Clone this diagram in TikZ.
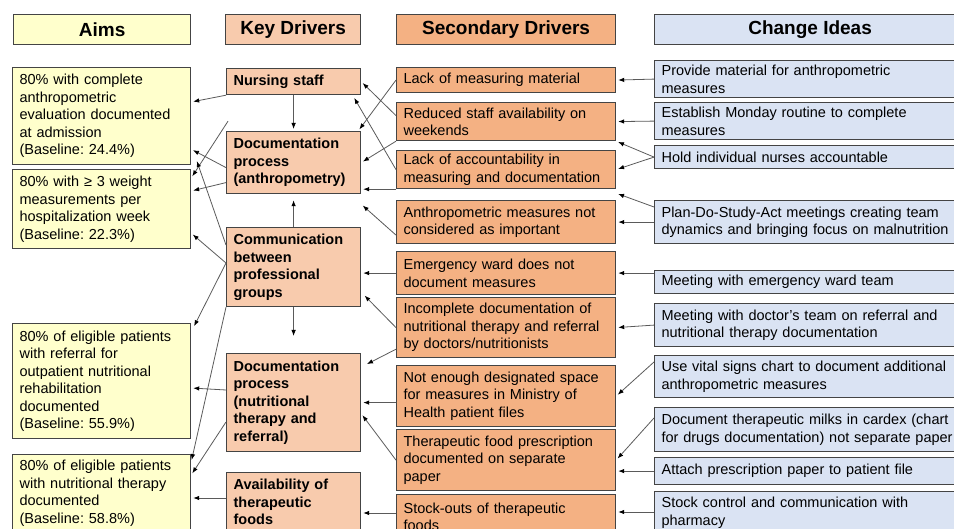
\documentclass[tikz,border=0pt]{standalone}
\usepackage{fontspec}
\setmainfont{Liberation Sans}
\usetikzlibrary{calc}
\usetikzlibrary{arrows.meta}
\frenchspacing

\definecolor{aimfill}{HTML}{FFFFCC}
\definecolor{keyfill}{HTML}{F8CBAD}
\definecolor{secfill}{HTML}{F4B183}
\definecolor{ideafill}{HTML}{DAE3F3}
\definecolor{boxline}{HTML}{444444}
\definecolor{linkgray}{HTML}{5A5A5A}

\tikzset{
	box/.style={draw=boxline, line width=1.2pt, rectangle, anchor=north west, inner xsep=7pt, inner ysep=0pt, align=left, font=\fontsize{14.5}{17.5}\selectfont},
	aim/.style={box, fill=aimfill, text width=164pt},
	key/.style={box, fill=keyfill, text width=120pt, font=\fontsize{14.5}{17.5}\selectfont\bfseries},
	sec/.style={box, fill=secfill, text width=205pt},
	idea/.style={box, fill=ideafill, text width=297pt},
	head/.style={draw=boxline, line width=1.2pt, rectangle, anchor=north west, inner sep=0pt, minimum height=30pt, font=\fontsize{19}{22}\selectfont\bfseries},
	link/.style={draw=linkgray, line width=0.8pt, -{Latex[length=6pt,width=4.5pt,color=black]}, shorten >=2pt}
}

\begin{document}
\begin{tikzpicture}[x=1pt, y=-1pt]
	\useasboundingbox (0,0) rectangle (954,529);

	\node[head, fill=aimfill, minimum width=177pt] (hAims) at (13,14) {Aims};
	\node[head, fill=keyfill, minimum width=135pt] (hKey) at (225,14) {Key Drivers};
	\node[head, fill=secfill, minimum width=219pt] (hSec) at (396,14) {Secondary Drivers};
	\node[head, fill=ideafill, minimum width=311pt] (hIdea) at (654,14) {Change Ideas};

	\node[aim, minimum height=97pt] (aimAdm) at (12,67) {80\% with complete\\anthropometric\\evaluation documented\\at admission\\(Baseline: 24.4\%)};
	\node[aim, minimum height=79pt] (aimWeight) at (12,169) {80\% with ≥ 3 weight\\measurements per\\hospitalization week\\(Baseline: 22.3\%)};
	\node[aim, minimum height=115pt] (aimRef) at (12,323) {80\% of eligible patients\\with referral for\\outpatient nutritional\\rehabilitation\\documented\\(Baseline: 55.9\%)};
	\node[aim, minimum height=77pt] (aimTher) at (12,454) {80\% of eligible patients\\with nutritional therapy\\documented\\(Baseline: 58.8\%)};

	\node[key, minimum height=26pt] (kNurse) at (226,68) {Nursing staff};
	\node[key, minimum height=62pt] (kDocA) at (226,131) {Documentation\\process\\(anthropometry)};
	\node[key, minimum height=79pt] (kComm) at (226,227) {Communication\\between\\professional\\groups};
	\node[key, minimum height=98pt] (kDocN) at (226,353) {Documentation\\process\\(nutritional\\therapy and\\referral)};
	\node[key, minimum height=59pt] (kFood) at (226,472) {Availability of\\therapeutic\\foods};

	\node[sec, minimum height=25pt] (sMat) at (396,67) {Lack of measuring material};
	\node[sec, minimum height=38pt] (sWeekend) at (396,102) {Reduced staff availability on\\weekends};
	\node[sec, minimum height=38pt] (sAcc) at (396,150) {Lack of accountability in\\measuring and documentation};
	\node[sec, minimum height=43pt] (sImport) at (396,200) {Anthropometric measures not\\considered as important};
	\node[sec, minimum height=43pt] (sEmerg) at (396,251) {Emergency ward does not\\document measures};
	\node[sec, minimum height=60pt] (sDoctors) at (396,297) {Incomplete documentation of\\nutritional therapy and referral\\by doctors/nutritionists};
	\node[sec, minimum height=61pt] (sSpace) at (396,365) {Not enough designated space\\for measures in Ministry of\\Health patient files};
	\node[sec, minimum height=61pt] (sPaper) at (396,429) {Therapeutic food prescription\\documented on separate\\paper};
	\node[sec, minimum height=44pt] (sStock) at (396,494) {Stock-outs of therapeutic\\foods};

	\node[idea, minimum height=37pt] (cMat) at (654,60) {Provide material for anthropometric\\measures};
	\node[idea, minimum height=37pt] (cMonday) at (654,102) {Establish Monday routine to complete\\measures};
	\node[idea, minimum height=23pt] (cNurses) at (654,145) {Hold individual nurses accountable};
	\node[idea, minimum height=43pt] (cPdsa) at (654,200) {Plan-Do-Study-Act meetings creating team\\dynamics and bringing focus on malnutrition};
	\node[idea, minimum height=23pt] (cEmerg) at (654,270) {Meeting with emergency ward team};
	\node[idea, minimum height=43pt] (cDoctors) at (654,303) {Meeting with doctor’s team on referral and\\nutritional therapy documentation};
	\node[idea, minimum height=42pt] (cVital) at (654,355) {Use vital signs chart to document additional\\anthropometric measures};
	\node[idea, minimum height=44pt] (cCardex) at (654,407) {Document therapeutic milks in cardex (chart\\for drugs documentation) not separate paper};
	\node[idea, minimum height=27pt] (cAttach) at (654,457) {Attach prescription paper to patient file};
	\node[idea, minimum height=42pt] (cStock) at (654,491) {Stock control and communication with\\pharmacy};

	\draw[link] (cMat.west) -- (sMat.east);
	\draw[link] (cMonday.west) -- (sWeekend.east);
	\draw[link] (cNurses.west) -- (sWeekend.south east);
	\draw[link] (cNurses.west) -- (sAcc.east);
	\draw[link] ($(cPdsa.north west)+(0,7)$) -- ($(sAcc.south east)+(0,4)$);
	\draw[link] (cPdsa.west) -- (sImport.east);
	\draw[link] (cEmerg.west |- sEmerg.east) -- (sEmerg.east);
	\draw[link] (cDoctors.west) -- (sDoctors.east);
	\draw[link] ($(cVital.north west)+(0,7)$) -- (sSpace.east);
	\draw[link] ($(cCardex.north west)+(0,11)$) -- (sPaper.east);
	\draw[link] (cAttach.west) -- (cAttach.west -| sPaper.east);
	\draw[link] ($(cStock.north west)+(0,21)$) -- ($(sStock.north east)+(0,18)$);

	\draw[link] (sMat.west) -- ($(kDocA.north east)+(-3,0)$);
	\draw[link] ($(sWeekend.west)+(0,-6)$) -- (kNurse.east);
	\draw[link] (sAcc.west) -- ($(kNurse.south east)+(-8,1)$);
	\draw[link] (sWeekend.south west) -- (kDocA.east);
	\draw[link] (sAcc.south west) -- (sAcc.south west -| kDocA.east);
	\draw[link] ($(sImport.west)+(0,13)$) -- ($(kDocA.south east)+(0,10)$);
	\draw[link] (sEmerg.west) -- (sEmerg.west -| kComm.east);
	\draw[link] (sDoctors.west) -- ($(kComm.south east)+(2,-13)$);
	\draw[link] ($(sDoctors.south west)+(0,-9)$) -- ($(kDocN.north east)+(4,12)$);
	\draw[link] (sSpace.west |- kDocN.east) -- (kDocN.east);
	\draw[link] (sPaper.west) -- ($(kDocN.east)+(0,11)$);
	\draw[link] ($(sStock.north west)+(0,19)$) -- ($(kFood.north east)+(0,41)$);

	\draw[link] (kNurse.south) -- (kDocA.north);
	\draw[link] (kComm.north) -- ($(kDocA.south)+(0,4)$);
	\draw[link] (kComm.south) -- ($(kDocN.north)+(0,-15)$);

	\coordinate (loose) at ($(kNurse.south west)+(2,26)$);
	\draw[link] (kNurse.south west) -- ($(aimAdm.north east)+(0,35)$);
	\draw[link] (loose) -- ($(aimWeight.north east)+(0,9)$);
	\draw[link] ($(kDocA.west)+(0,5)$) -- ($(aimAdm.south east)+(0,-16)$);
	\draw[link] ($(kDocA.west)+(0,20)$) -- ($(aimWeight.north east)+(0,22)$);
	\draw[link] ($(kComm.north west)+(0,18)$) -- ($(aimAdm.south east)+(5,-6)$);
	\draw[link] ($(kComm.north west)+(0,36)$) -- ($(aimWeight.south east)+(0,-16)$);
	\draw[link] ($(kComm.north west)+(0,36)$) -- ($(aimRef.north east)+(2,5)$);
	\draw[link] (kComm.south west) -- ($(aimTher.north east)+(0,8)$);
	\draw[link] ($(kDocN.north west)+(0,37)$) -- ($(aimRef.north east)+(0,65)$);
	\draw[link] ($(kDocN.north west)+(0,69)$) -- ($(aimTher.north east)+(0,21)$);
	\draw[link] ($(kFood.north west)+(0,26)$) -- ($(aimTher.north east)+(0,44)$);
\end{tikzpicture}
\end{document}
